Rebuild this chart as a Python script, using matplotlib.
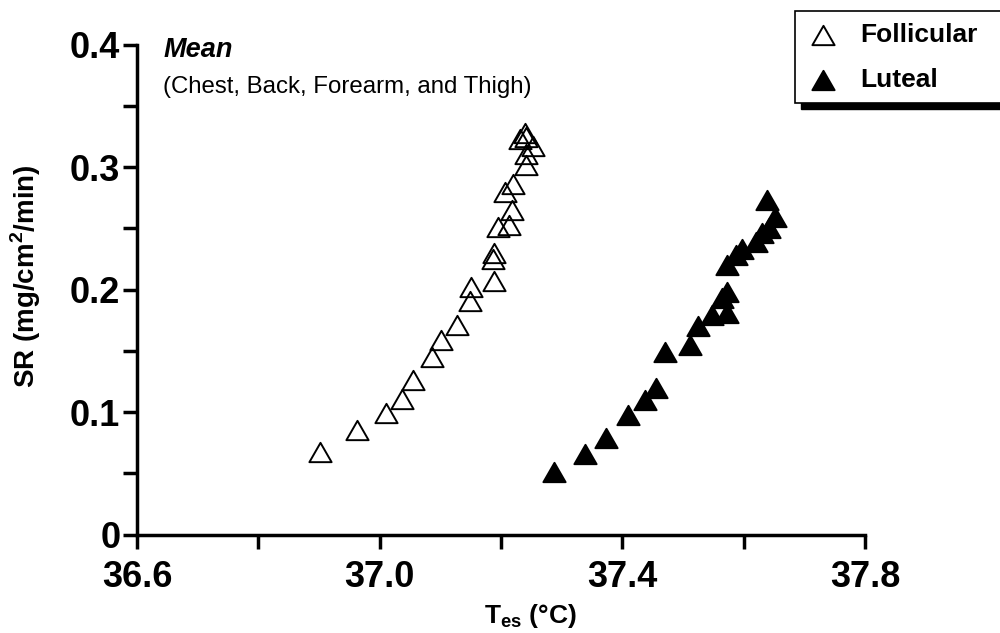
import matplotlib
matplotlib.use("Agg")
import matplotlib.pyplot as plt
from matplotlib.path import Path
from matplotlib.patches import Rectangle
from matplotlib.lines import Line2D

plt.rcParams['font.family'] = ['Liberation Sans', 'DejaVu Sans']
plt.rcParams['mathtext.fontset'] = 'custom'
plt.rcParams['mathtext.rm'] = 'Liberation Sans:bold'
plt.rcParams['mathtext.bf'] = 'Liberation Sans:bold'

# esophageal temperature (C) and sweat rate (mg/cm2/min)
foll_tes = [36.901, 36.963, 37.011, 37.036, 37.055, 37.086, 37.101, 37.128,
            37.149, 37.151, 37.188, 37.187, 37.188, 37.195, 37.213, 37.218,
            37.206, 37.220, 37.242, 37.242, 37.252, 37.231, 37.242, 37.240]
foll_sr = [0.067, 0.085, 0.099, 0.111, 0.126, 0.145, 0.159, 0.171,
           0.191, 0.202, 0.207, 0.225, 0.230, 0.251, 0.253, 0.265,
           0.280, 0.286, 0.302, 0.311, 0.317, 0.323, 0.325, 0.328]

lut_tes = [37.287, 37.339, 37.373, 37.409, 37.438, 37.455, 37.471, 37.511,
           37.524, 37.547, 37.564, 37.572, 37.572, 37.572, 37.587, 37.597,
           37.621, 37.630, 37.641, 37.651, 37.638]
lut_sr = [0.051, 0.066, 0.079, 0.098, 0.110, 0.120, 0.149, 0.155,
          0.170, 0.179, 0.193, 0.181, 0.198, 0.220, 0.228, 0.233,
          0.239, 0.246, 0.250, 0.259, 0.273]

xticks = [36.6, 36.8, 37.0, 37.2, 37.4, 37.6, 37.8]
xticklabels = ['36.6', '', '37.0', '', '37.4', '', '37.8']
yticks = [0, 0.05, 0.1, 0.15, 0.2, 0.25, 0.3, 0.35, 0.4]
yticklabels = ['0', '', '0.1', '', '0.2', '', '0.3', '', '0.4']

# slightly flattened triangle
tri = Path([(-1, -0.87), (1, -0.87), (0, 0.87), (-1, -0.87)],
           [Path.MOVETO, Path.LINETO, Path.LINETO, Path.CLOSEPOLY])

fig = plt.figure(figsize=(10, 6.33), dpi=100)
ax = fig.add_axes([0.137, 0.1556, 0.728, 0.7735])

ax.plot(foll_tes, foll_sr, linestyle='none', marker=tri, markersize=16,
        mfc='none', mec='black', mew=1.4, clip_on=False)
ax.plot(lut_tes, lut_sr, linestyle='none', marker=tri, markersize=16,
        mfc='black', mec='black', mew=1.4, clip_on=False)

ax.set_xlim(36.6, 37.8)
ax.set_ylim(0, 0.4)
ax.set_xticks(xticks)
ax.set_xticklabels(xticklabels)
ax.set_yticks(yticks)
ax.set_yticklabels(yticklabels)

for s in ['top', 'right']:
    ax.spines[s].set_visible(False)
for s in ['left', 'bottom']:
    ax.spines[s].set_linewidth(2.5)

ax.tick_params(axis='both', direction='out', length=10, width=2.5,
               labelsize=26)
ax.tick_params(axis='x', pad=8)
ax.tick_params(axis='y', pad=2)
for lab in ax.get_xticklabels() + ax.get_yticklabels():
    lab.set_fontweight('bold')

ax.set_xlabel(r'T$_{\mathregular{es}}$ (°C)', fontsize=19, fontweight='bold')
ax.xaxis.set_label_coords(0.541, -0.138)
ax.set_ylabel(r'SR (mg/cm$^{\mathregular{2}}$/min)', fontsize=20,
              fontweight='bold')
ax.yaxis.set_label_coords(-0.129, 0.528)

fig.text(0.164, 0.921, 'Mean', fontsize=19.5, fontweight='bold',
         fontstyle='italic', va='center', ha='left')
fig.text(0.163, 0.8626, '(Chest, Back, Forearm, and Thigh)', fontsize=17.3,
         va='center', ha='left')

# legend box with drop shadow
fig.patches.append(Rectangle((0.801, 0.828), 0.3, 0.1455, transform=fig.transFigure,
                             facecolor='black', edgecolor='black', zorder=5))
fig.patches.append(Rectangle((0.795, 0.837), 0.3, 0.1455, transform=fig.transFigure,
                             facecolor='white', edgecolor='black', linewidth=1.2,
                             zorder=6))
fig.lines.append(Line2D([0.823], [0.945], transform=fig.transFigure, marker=tri,
                        markersize=16, mfc='white', mec='black', mew=1.4,
                        linestyle='none', zorder=7))
fig.lines.append(Line2D([0.823], [0.874], transform=fig.transFigure, marker=tri,
                        markersize=16, mfc='black', mec='black', mew=1.4,
                        linestyle='none', zorder=7))
fig.text(0.860, 0.945, 'Follicular', fontsize=19, fontweight='bold',
         va='center', ha='left', zorder=8)
fig.text(0.860, 0.874, 'Luteal', fontsize=19, fontweight='bold',
         va='center', ha='left', zorder=8)

fig.savefig('out.png', dpi=100)
